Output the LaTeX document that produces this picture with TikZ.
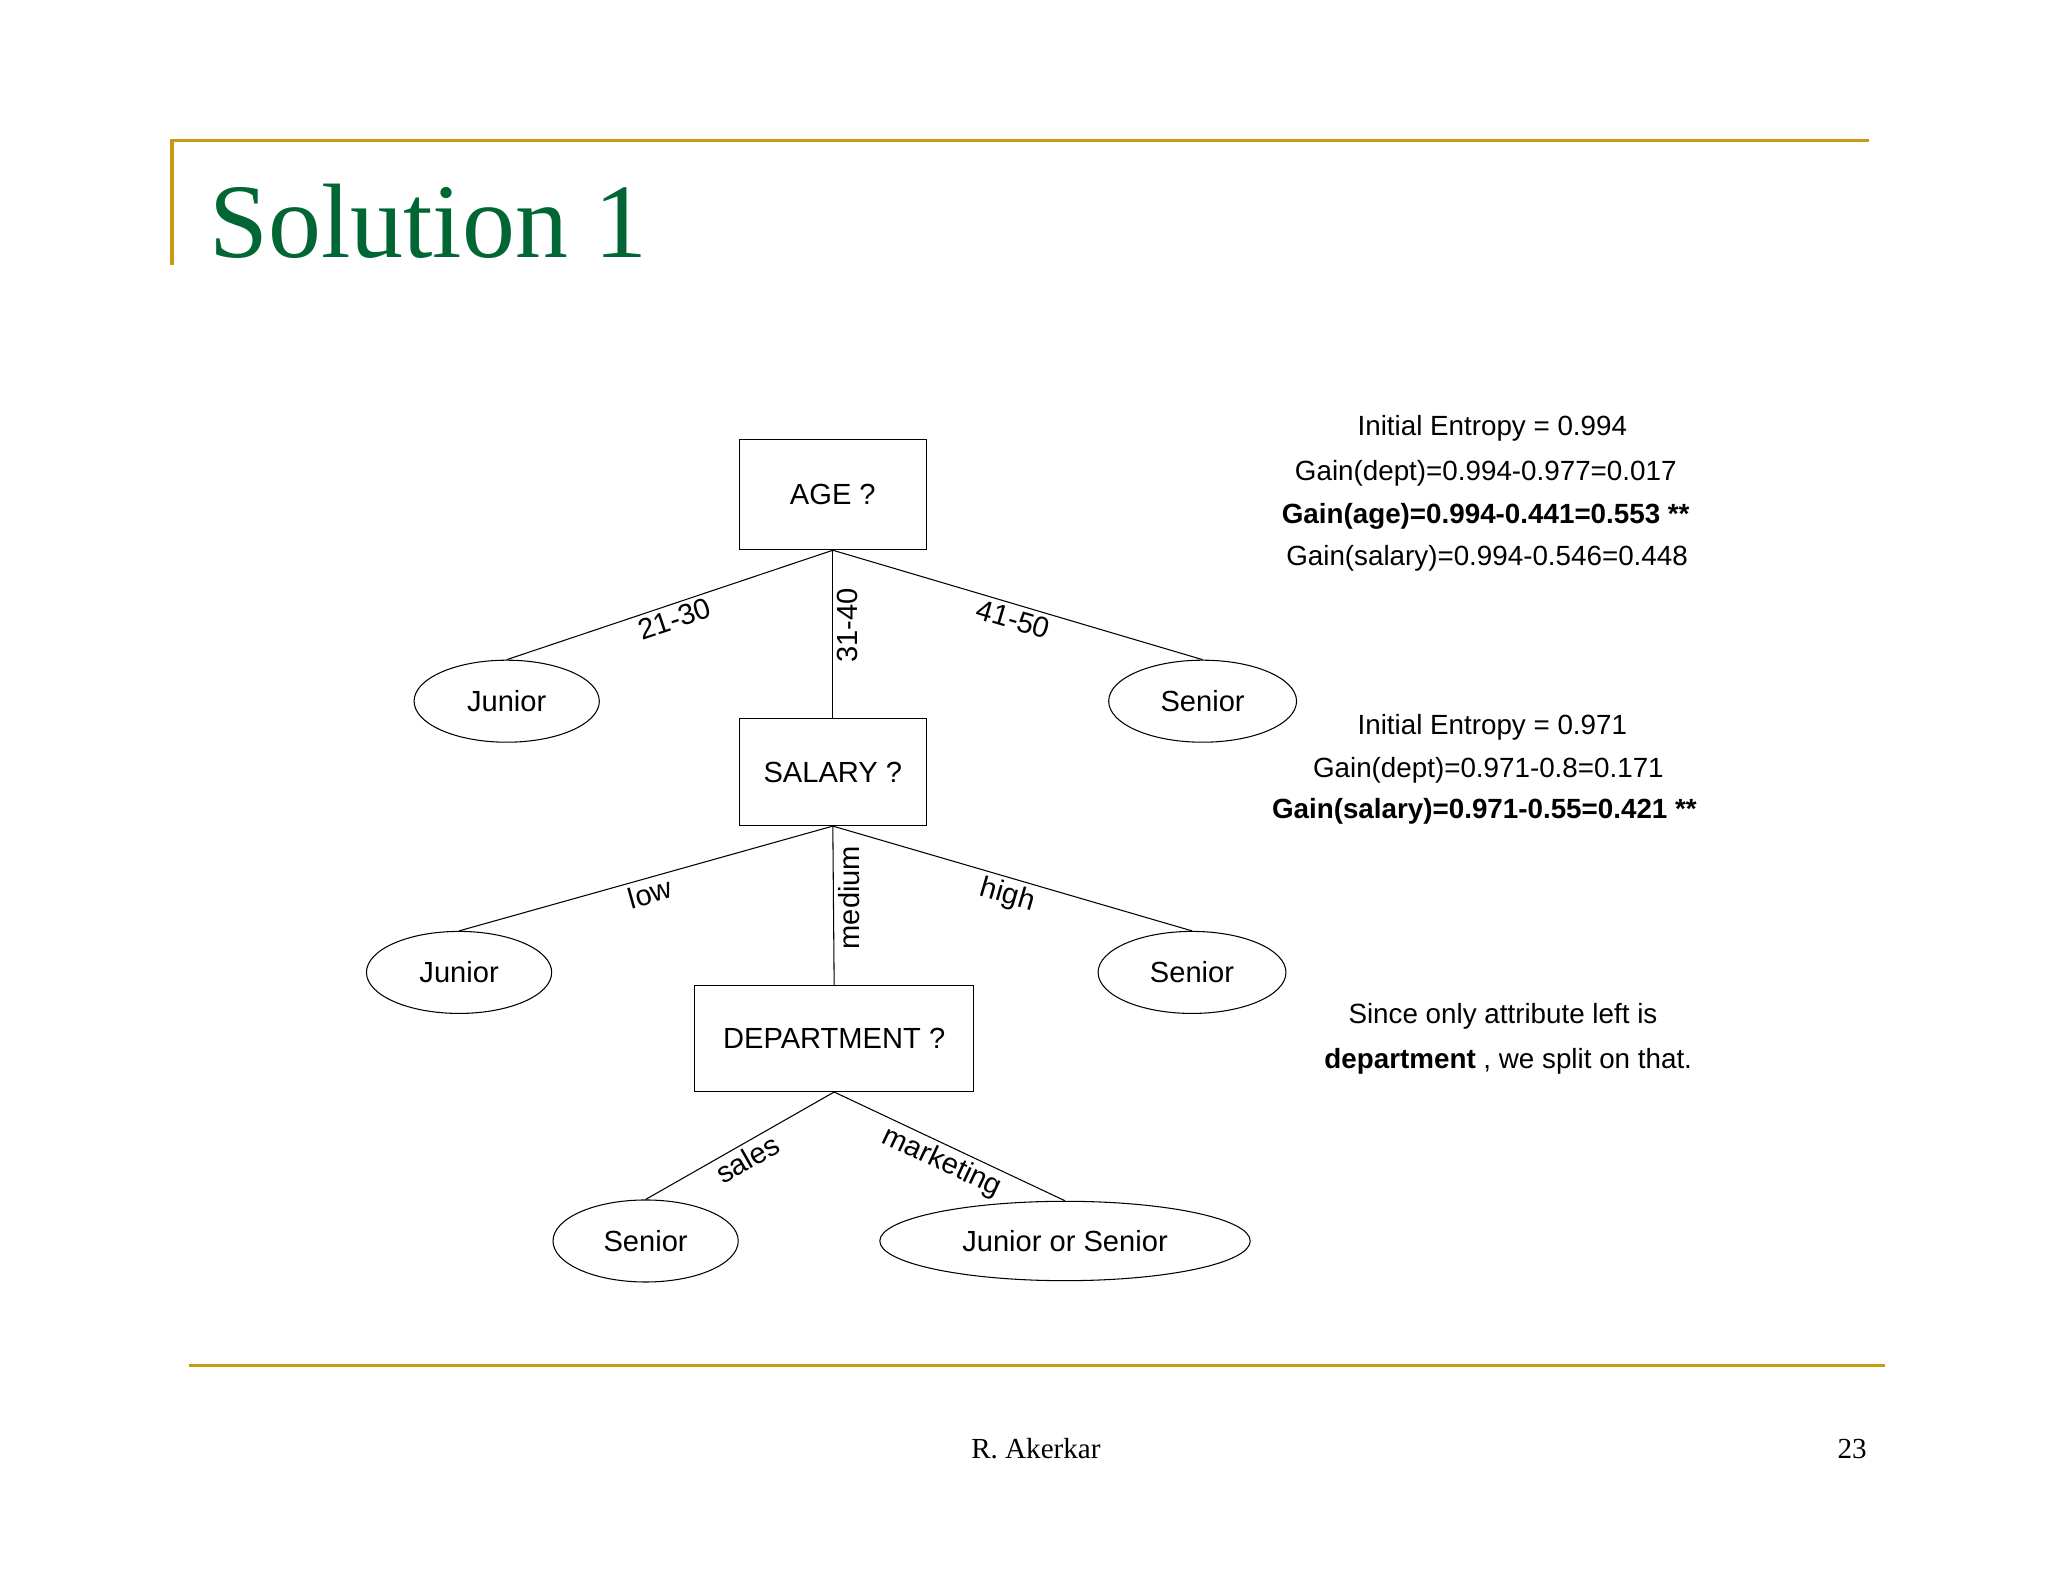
\documentclass[tikz,border=0pt]{standalone}
\usepackage{fontspec}
\setmainfont{Liberation Serif}
\newfontfamily\dsans{Liberation Sans}
\usetikzlibrary{shapes.geometric}
\definecolor{gold}{RGB}{200,154,20}
\definecolor{ttl}{RGB}{0,102,51}
\tikzset{
  box/.style={draw,thick,minimum width=141pt,minimum height=83pt,font=\dsans\fontsize{22}{24}\selectfont},
  leaf/.style={draw,thick,ellipse,minimum width=140pt,minimum height=62pt,font=\dsans\fontsize{22}{24}\selectfont},
  edge/.style={thick},
  lab/.style={font=\dsans\fontsize{22}{24}\selectfont,inner sep=3pt},
  info/.style={font=\dsans\fontsize{21}{24}\selectfont,anchor=center}
}
\begin{document}
\begin{tikzpicture}[x=1pt,y=-1pt]
\useasboundingbox[fill=white] (0,0) rectangle (1548,1195);
\draw[gold,line width=2.5pt] (130,200) coordinate (gl1) -- (130,106) coordinate (gl2) -- (1413,106) coordinate (gl3);
\draw[gold,line width=2.5pt] (143,1032) coordinate (gb1) -- (1425,1032) coordinate (gb2);
\node[anchor=base west,text=ttl,font=\fontsize{80}{90}\selectfont,inner sep=0] (title) at (158,195) {Solution 1};
\node[font=\fontsize{22}{24}\selectfont] (auth) at (783,1095) {R. Akerkar};
\node[font=\fontsize{22}{24}\selectfont] (pg) at (1400,1095) {23};

\node[box] (age) at (629.5,374) {AGE ?};
\node[box,minimum height=81pt] (sal) at (629.5,583.5) {SALARY ?};
\node[box,minimum width=211pt,minimum height=80pt] (dep) at (630.5,785) {DEPARTMENT ?};
\node[leaf] (j1) at (383,530) {Junior};
\node[leaf,minimum width=142pt] (s1) at (909,530) {Senior};
\node[leaf] (j2) at (347,735) {Junior};
\node[leaf,minimum width=142pt] (s2) at (901,735) {Senior};
\node[leaf] (s3) at (488,938) {Senior};
\node[leaf,minimum width=280pt,minimum height=60pt] (js) at (805,938) {Junior or Senior};

\draw[edge] (age.south) -- node[lab,sloped,below,pos=0.5] {21-30} (j1.north);
\draw[edge] (age.south) -- node[lab,rotate=90,anchor=north,pos=0.45] {31-40} (sal.north);
\draw[edge] (age.south) -- node[lab,sloped,below,pos=0.5] {41-50} (s1.north);
\draw[edge] (sal.south) -- node[lab,sloped,below,pos=0.5] {low} (j2.north);
\draw[edge] (sal.south) -- node[lab,rotate=90,anchor=north,pos=0.45] {medium} (dep.north);
\draw[edge] (sal.south) -- node[lab,sloped,below,pos=0.5] {high} (s2.north);
\draw[edge] (dep.south) -- node[lab,sloped,below,pos=0.5] {sales} (s3.north);
\draw[edge] (dep.south) -- node[lab,sloped,below,pos=0.5] {marketing} (js.north);

\node[info] (t1) at (1128,324) {Initial Entropy = 0.994};
\node[info] (t2) at (1123,358) {Gain(dept)=0.994-0.977=0.017};
\node[info] (t3) at (1123,390) {\bfseries Gain(age)=0.994-0.441=0.553 **};
\node[info] (t4) at (1124,422) {Gain(salary)=0.994-0.546=0.448};
\node[info] (t5) at (1128,550) {Initial Entropy = 0.971};
\node[info] (t6) at (1125,582) {Gain(dept)=0.971-0.8=0.171};
\node[info] (t7) at (1122,613) {\bfseries Gain(salary)=0.971-0.55=0.421 **};
\node[info] (t8) at (1136,768) {Since only attribute left is};
\node[info] (t9) at (1140,802) {\bfseries department\mdseries\ , we split on that.};
\end{tikzpicture}
\end{document}
